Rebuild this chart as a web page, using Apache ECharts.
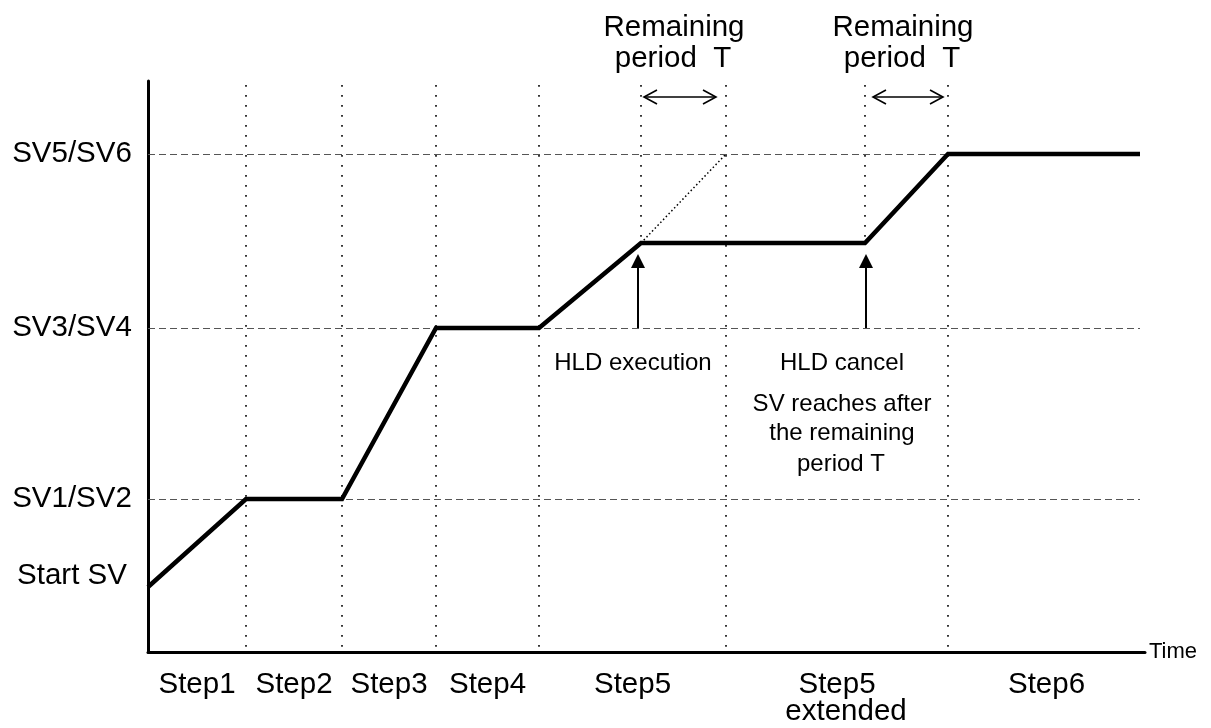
<!DOCTYPE html>
<html><head><meta charset="utf-8">
<script src="https://cdn.jsdelivr.net/npm/echarts@6/dist/echarts.min.js"></script>
<style>html,body{margin:0;padding:0;background:#fff}#c{width:1211px;height:728px}</style>
</head><body><div id="c"></div>
<script>
// ---- data (time units along x, SV units along y) ----
const stepBounds = [0, 9.8, 19.4, 28.8, 39.1, 57.8, 80.0, 99.7];
const stepLabels = ['Step1', 'Step2', 'Step3', 'Step4', 'Step5', 'Step5', 'Step6'];
const stepSubLabels = ['', '', '', '', '', 'extended', ''];
const svLevels = [6.5, 15.3, 32.4, 49.8];
const svLabels = ['Start SV', 'SV1/SV2', 'SV3/SV4', 'SV5/SV6'];
const profileX = [0, 9.8, 19.4, 28.8, 39.1, 49.3, 71.7, 80.0, 99.2];
const profileY = [6.5, 15.3, 15.3, 32.4, 32.4, 40.9, 40.9, 49.8, 49.8];
const holdStart = 49.3, holdEnd = 71.7, holdLevel = 40.9;
const plannedEnd = 57.8;
const fullDividers = [9.8, 19.4, 28.8, 39.1, 57.8, 80.0];
const partialDividers = [49.3, 71.7];
const dividerTop = 56.7;
const dashedEnd = 99.2;
const arrowX = [49.0, 71.8];
const arrowTip = 39.1;
const periodArrows = [[49.6, 56.8], [72.5, 79.5]];
const periodArrowLevel = 55.5;
const remainLabelX = [52.6, 75.5];
const xMax = 99.7, yMax = 57.1;

const FONT = '"Liberation Sans", Arial, sans-serif';
const chart = echarts.init(document.getElementById('c'), null, { renderer: 'canvas' });

const dividerLines = fullDividers.map(x => [{ coord: [x, dividerTop] }, { coord: [x, 0] }])
  .concat(partialDividers.map(x => [{ coord: [x, dividerTop] }, { coord: [x, holdLevel] }]));
const dashedLines = svLevels.slice(1).map(v => [{ coord: [0, v] }, { coord: [dashedEnd, v] }]);
const arrowLines = arrowX.map(x => [{ coord: [x, svLevels[2]] }, { coord: [x, arrowTip] }]);

const option = {
  animation: false,
  backgroundColor: '#fff',
  grid: { left: 148, right: 66, top: 81, bottom: 76 },
  xAxis: {
    type: 'value', min: 0, max: xMax,
    axisLine: { show: true, lineStyle: { color: '#000', width: 3 } },
    axisTick: { show: false }, axisLabel: { show: false }, splitLine: { show: false }
  },
  yAxis: {
    type: 'value', min: 0, max: yMax,
    axisLine: { show: true, lineStyle: { color: '#000', width: 3 } },
    axisTick: { show: false }, axisLabel: { show: false }, splitLine: { show: false }
  },
  series: [
    {
      type: 'line', name: 'dividers', data: [], silent: true,
      markLine: {
        silent: true, symbol: ['none', 'none'], label: { show: false },
        lineStyle: { color: '#222', width: 1.8, type: [1.8, 8.2] },
        data: dividerLines
      }
    },
    {
      type: 'line', name: 'levels', data: [], silent: true,
      markLine: {
        silent: true, symbol: ['none', 'none'], label: { show: false },
        lineStyle: { color: '#555', width: 1, type: [7, 4] },
        data: dashedLines
      }
    },
    {
      type: 'line', name: 'planned', silent: true, symbol: 'none',
      data: [[holdStart, holdLevel], [plannedEnd, svLevels[3]]],
      lineStyle: { color: '#000', width: 1.5, type: [1.5, 2.5] }, z: 3
    },
    {
      type: 'line', name: 'SV', silent: true, symbol: 'none',
      data: profileX.map((x, i) => [x, profileY[i]]),
      lineStyle: { color: '#000', width: 4.5, join: 'miter' }, z: 5
    },
    {
      type: 'line', name: 'arrows', data: [], silent: true,
      markLine: {
        silent: true, symbol: ['none', 'triangle'], symbolSize: 14, label: { show: false },
        itemStyle: { color: '#000' },
        lineStyle: { color: '#000', width: 2, type: 'solid' },
        data: arrowLines
      }
    }
  ]
};
chart.setOption(option);

const px = (x, y) => chart.convertToPixel({ gridIndex: 0 }, [x, y]);
const txt = (t, x, y, size, align) => ({
  type: 'text', silent: true, z: 10,
  style: { text: t, x: x, y: y, font: size + 'px ' + FONT, fill: '#000',
    align: align || 'center', verticalAlign: 'middle',
    textAlign: align || 'center', textVerticalAlign: 'middle' }
});
const g = [];
const origin = px(0, 0);
const topPx = px(0, yMax)[1];
// y labels
const svShift = [-11, 0, 0, 0];
svLabels.forEach((t, i) => {
  const p = px(0, svLevels[i]);
  g.push(txt(t, p[0] - 76, p[1] + svShift[i], 29.5));
});
// step labels
stepLabels.forEach((t, i) => {
  const cx = (px(stepBounds[i], 0)[0] + px(stepBounds[i + 1], 0)[0]) / 2;
  g.push(txt(t, cx, origin[1] + 33, 29.5));
  if (stepSubLabels[i]) g.push(txt(stepSubLabels[i], cx + 9, origin[1] + 60, 29.5));
});
// Time
const xEnd = px(xMax, 0);
g.push(txt('Time', xEnd[0] + 4, xEnd[1], 22, 'left'));
// Remaining period labels
remainLabelX.forEach(x => {
  const cx = px(x, 0)[0];
  g.push(txt('Remaining', cx, topPx - 53, 29.5));
  g.push(txt('period  T', cx - 1, topPx - 22, 29.5));
});
// double arrows
periodArrows.forEach(a => {
  const p1 = px(a[0], periodArrowLevel), p2 = px(a[1], periodArrowLevel);
  const y = p1[1];
  const ls = { stroke: '#000', lineWidth: 1.6, fill: null };
  g.push({ type: 'polyline', silent: true, shape: { points: [[p1[0], y], [p2[0], y]] }, style: ls, z: 10 });
  g.push({ type: 'polyline', silent: true, shape: { points: [[p1[0] + 13, y - 7], [p1[0], y], [p1[0] + 13, y + 7]] }, style: ls, z: 10 });
  g.push({ type: 'polyline', silent: true, shape: { points: [[p2[0] - 13, y - 7], [p2[0], y], [p2[0] - 13, y + 7]] }, style: ls, z: 10 });
});
// HLD notes
const a1 = px(arrowX[0], svLevels[2]);
const a2 = px(arrowX[1], svLevels[2]);
g.push(txt('HLD execution', a1[0] - 5, a1[1] + 35, 24));
g.push(txt('HLD cancel', a2[0] - 24, a2[1] + 35, 24));
g.push(txt('SV reaches after', a2[0] - 24, a2[1] + 76, 24));
g.push(txt('the remaining', a2[0] - 24, a2[1] + 105, 24));
g.push(txt('period T', a2[0] - 25, a2[1] + 136, 24));

chart.setOption({ graphic: { elements: g } });
</script>
</body></html>
